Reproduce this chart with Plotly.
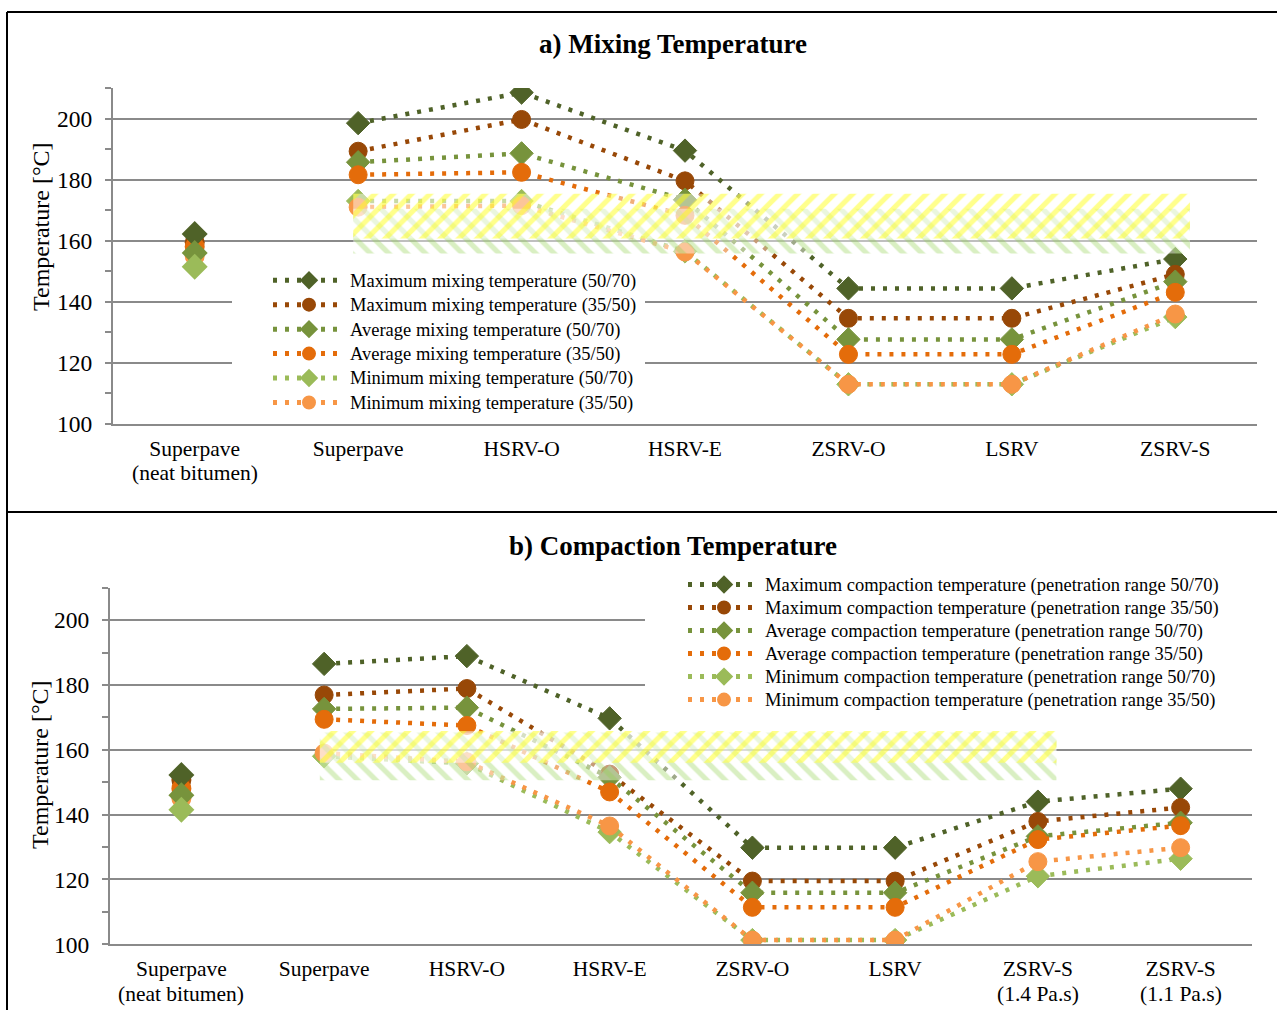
import plotly.graph_objects as go

W, H = 1277, 1010
FONT = "Liberation Serif"

# ---------------- data ----------------
mix_categories = ["Superpave", "Superpave", "HSRV-O", "HSRV-E", "ZSRV-O", "LSRV", "ZSRV-S"]
mix_subcaptions = ["(neat bitumen)", "", "", "", "", "", ""]
comp_categories = ["Superpave", "Superpave", "HSRV-O", "HSRV-E", "ZSRV-O", "LSRV",
                   "ZSRV-S", "ZSRV-S"]
comp_subcaptions = ["(neat bitumen)", "", "", "", "", "", "(1.4 Pa.s)", "(1.1 Pa.s)"]

series_names_mix = [
    "Maximum mixing temperature (50/70)",
    "Maximum mixing temperature (35/50)",
    "Average mixing temperature (50/70)",
    "Average mixing temperature (35/50)",
    "Minimum mixing temperature (50/70)",
    "Minimum mixing temperature (35/50)",
]
series_names_comp = [
    "Maximum compaction temperature (penetration range 50/70)",
    "Maximum compaction temperature (penetration range 35/50)",
    "Average compaction temperature (penetration range 50/70)",
    "Average compaction temperature (penetration range 35/50)",
    "Minimum compaction temperature (penetration range 50/70)",
    "Minimum compaction temperature (penetration range 35/50)",
]

# modified binders, Superpave .. ZSRV-S  [°C]
mix_max_5070 = [198.5, 208.5, 189.5, 144.4, 144.4, 154.0]
mix_max_3550 = [189.3, 199.7, 179.6, 134.6, 134.6, 149.0]
mix_avg_5070 = [185.7, 188.6, 173.4, 127.7, 127.7, 146.6]
mix_avg_3550 = [181.6, 182.4, 168.3, 122.8, 122.8, 143.1]
mix_min_5070 = [173.0, 173.0, 156.5, 113.0, 113.0, 135.0]
mix_min_3550 = [171.0, 171.5, 156.3, 113.0, 113.0, 136.0]

comp_max_5070 = [186.5, 188.9, 169.7, 129.8, 129.8, 144.0, 148.0]
comp_max_3550 = [176.9, 178.9, 152.5, 119.5, 119.5, 137.9, 142.2]
comp_avg_5070 = [172.6, 173.0, 151.5, 115.9, 115.9, 133.3, 137.5]
comp_avg_3550 = [169.4, 167.5, 147.0, 111.4, 111.4, 132.3, 136.6]
comp_min_5070 = [158.0, 155.8, 134.6, 101.3, 101.3, 121.0, 126.4]
comp_min_3550 = [159.0, 156.3, 136.5, 101.3, 101.3, 125.5, 129.8]

# neat bitumen (Superpave method), same series order as above
mix_neat = [162.2, 159.5, 156.0, 158.0, 151.5, 155.0]
comp_neat = [152.2, 150.7, 146.0, 148.0, 141.5, 145.0]

# recommended temperature ranges (hatched bands)
mix_band_x = [0.97, 6.09]
mix_band_yellow = [160.7, 175.4]
mix_band_green = [155.8, 170.5]
comp_band_x = [0.97, 6.13]
comp_band_yellow = [156.0, 165.8]
comp_band_green = [150.6, 165.3]

# ---------------- styling ----------------
colors = ["#4F6228", "#984807", "#77933C", "#E46C0A", "#9BBB59", "#F79646"]
symbols = ["diamond", "circle", "diamond", "circle", "diamond", "circle"]
GRID = "#8A8A8A"
LEGEND_TEXT_SIZE = 18.5
CAT_SIZE = 21.5


def px(x):
    return x / W


def py(y):
    return 1 - y / H


fig = go.Figure()


def add_panel(xa, ya, legend, names, series, neat, band_x, band_yellow, band_green):
    # neat-bitumen points (35/50 first so the 50/70 diamonds sit on top)
    for i in [1, 3, 5, 0, 2, 4]:
        fig.add_trace(go.Scatter(
            x=[0], y=[neat[i]], mode="markers", xaxis=xa, yaxis=ya,
            marker=dict(symbol=symbols[i], size=20, color=colors[i]),
            showlegend=False, hoverinfo="skip"))
    # modified-binder series
    for i, vals in enumerate(series):
        fig.add_trace(go.Scatter(
            x=list(range(1, len(vals) + 1)), y=vals, mode="lines+markers",
            name=f'<span style="font-size:{LEGEND_TEXT_SIZE}px">{names[i]}</span>',
            xaxis=xa, yaxis=ya, legend=legend,
            line=dict(color=colors[i], width=4.5, dash="4px,8px"),
            marker=dict(symbol=symbols[i], size=18, color=colors[i],
                        line=dict(color=colors[i], width=1))))
    # hatched recommended ranges, laid over the lines
    for rng, shape, fg in [(band_green, "\\", "rgba(146,208,80,0.7)"),
                           (band_yellow, "/", "rgba(255,255,0,0.9)")]:
        x0, x1 = band_x
        y0, y1 = rng
        fig.add_trace(go.Scatter(
            x=[x0, x1, x1, x0, x0], y=[y0, y0, y1, y1, y0], mode="lines",
            xaxis=xa, yaxis=ya, fill="toself",
            fillcolor="rgba(255,255,255,0.45)", line=dict(width=0),
            fillpattern=dict(shape=shape, fgcolor=fg,
                             bgcolor="rgba(255,255,255,0.45)",
                             size=13, solidity=0.4),
            showlegend=False, hoverinfo="skip"))


add_panel("x", "y", "legend", series_names_mix,
          [mix_max_5070, mix_max_3550, mix_avg_5070, mix_avg_3550, mix_min_5070, mix_min_3550],
          mix_neat, mix_band_x, mix_band_yellow, mix_band_green)
add_panel("x2", "y2", "legend2", series_names_comp,
          [comp_max_5070, comp_max_3550, comp_avg_5070, comp_avg_3550, comp_min_5070, comp_min_3550],
          comp_neat, comp_band_x, comp_band_yellow, comp_band_green)


def xaxis(domain, anchor, cats):
    return dict(domain=domain, anchor=anchor, range=[-0.5, len(cats) - 0.5],
                tickmode="array", tickvals=list(range(len(cats))), ticktext=cats,
                showgrid=False, zeroline=False, showline=True, linecolor=GRID,
                linewidth=2, ticks="", ticklabelstandoff=4, automargin=False,
                tickfont=dict(family=FONT, size=CAT_SIZE, color="black"))


def yaxis(domain, anchor):
    return dict(domain=domain, anchor=anchor, range=[100, 210], tick0=100, dtick=20,
                showgrid=True, gridcolor=GRID, gridwidth=2, zeroline=False,
                showline=True, linecolor=GRID, linewidth=2,
                ticks="outside", ticklen=6, tickwidth=2, tickcolor=GRID,
                minor=dict(dtick=10, ticks="outside", ticklen=6, tickwidth=2,
                           tickcolor=GRID, showgrid=False),
                ticklabelstandoff=8, automargin=False,
                tickfont=dict(family=FONT, size=23.5, color="black"))


def legend_cfg(x, y, row_size):
    # row_size drives the row pitch; the entry text carries its own size
    return dict(x=px(x), y=py(y), xanchor="left", yanchor="top",
                bgcolor="rgba(0,0,0,0)", borderwidth=0, itemwidth=72,
                tracegroupgap=0, itemsizing="constant",
                font=dict(family=FONT, size=row_size, color="black"),
                itemclick=False, itemdoubleclick=False)


shapes = [
    # white legend backgrounds cutting the gridlines
    dict(type="rect", xref="paper", yref="paper", x0=px(232), x1=px(645),
         y0=py(413), y1=py(266), fillcolor="white", line=dict(width=0), layer="above"),
    dict(type="rect", xref="paper", yref="paper", x0=px(645), x1=px(1265),
         y0=py(712), y1=py(568), fillcolor="white", line=dict(width=0), layer="above"),
    # panel frames
    dict(type="line", xref="paper", yref="paper", x0=px(7), x1=px(1290),
         y0=py(12), y1=py(12), line=dict(color="black", width=2)),
    dict(type="line", xref="paper", yref="paper", x0=px(7), x1=px(1290),
         y0=py(512), y1=py(512), line=dict(color="black", width=2)),
    dict(type="line", xref="paper", yref="paper", x0=px(7), x1=px(7),
         y0=py(12), y1=py(1020), line=dict(color="black", width=2)),
]

annotations = [
    dict(text="<b>a) Mixing Temperature</b>", x=px(673), y=py(44), xref="paper", yref="paper",
         showarrow=False, xanchor="center", yanchor="middle",
         font=dict(family=FONT, size=27, color="black")),
    dict(text="<b>b) Compaction Temperature</b>", x=px(673), y=py(546), xref="paper", yref="paper",
         showarrow=False, xanchor="center", yanchor="middle",
         font=dict(family=FONT, size=27, color="black")),
    dict(text="Temperature [°C]", x=px(41), y=py(227), xref="paper", yref="paper",
         showarrow=False, textangle=-90, xanchor="center", yanchor="middle",
         font=dict(family=FONT, size=24, color="black")),
    dict(text="Temperature [°C]", x=px(40), y=py(765), xref="paper", yref="paper",
         showarrow=False, textangle=-90, xanchor="center", yanchor="middle",
         font=dict(family=FONT, size=24, color="black")),
]

# second line of the category labels
for xa, subs, ypix in [("x", mix_subcaptions, 473), ("x2", comp_subcaptions, 994)]:
    for i, s in enumerate(subs):
        if s:
            annotations.append(dict(
                text=s, x=i, y=py(ypix), xref=xa, yref="paper", showarrow=False,
                xanchor="center", yanchor="middle",
                font=dict(family=FONT, size=CAT_SIZE, color="black")))

fig.update_layout(
    width=W, height=H, autosize=False,
    margin=dict(l=0, r=0, t=0, b=0, autoexpand=False),
    paper_bgcolor="white", plot_bgcolor="rgba(0,0,0,0)",
    xaxis=xaxis([px(113), px(1257)], "y", mix_categories),
    yaxis=yaxis([py(424), py(88)], "x"),
    xaxis2=xaxis([px(110), px(1252)], "y2", comp_categories),
    yaxis2=yaxis([py(944.3), py(587.7)], "x2"),
    legend=legend_cfg(268, 263, 16.5),
    legend2=legend_cfg(683, 568, 15.4),
    shapes=shapes,
    annotations=annotations,
    hovermode=False,
)

fig.write_html("out.html")
